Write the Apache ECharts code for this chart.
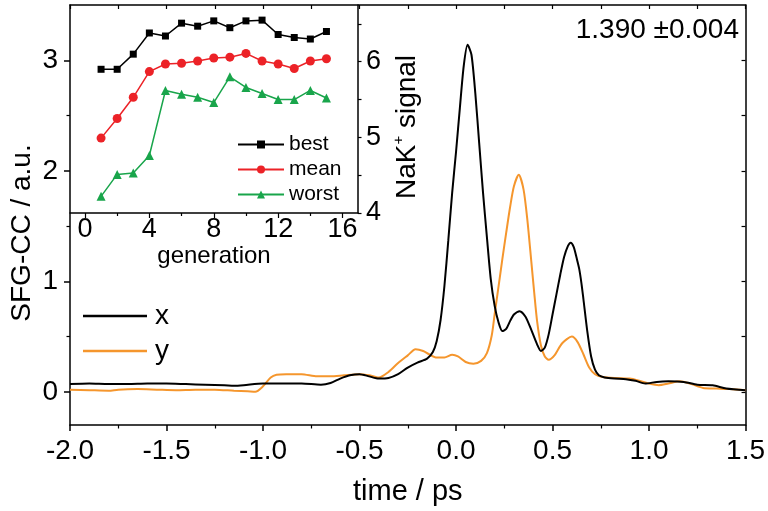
<!DOCTYPE html>
<html><head><meta charset="utf-8">
<script src="https://cdn.jsdelivr.net/npm/echarts@6/dist/echarts.min.js"></script>
<style>html,body{margin:0;padding:0;background:#fff}#c{width:768px;height:511px}</style>
</head><body><div id="c"></div>
<script>
// ---- main chart data (time / ps vs SFG-CC / a.u.) ----
const xTime = [-2.0,-1.9,-1.8,-1.7,-1.6,-1.5,-1.4,-1.3,-1.2,-1.15,-1.1,-1.0,-0.9,-0.8,-0.7,-0.65,-0.6,-0.55,-0.5,-0.45,-0.4,-0.35,-0.3,-0.25,-0.2,-0.15,-0.12,-0.1,-0.08,-0.06,-0.04,-0.02,0.0,0.02,0.04,0.06,0.08,0.10,0.12,0.14,0.16,0.18,0.20,0.22,0.24,0.26,0.28,0.30,0.33,0.36,0.39,0.42,0.44,0.46,0.48,0.50,0.52,0.54,0.56,0.58,0.594,0.61,0.625,0.638,0.65,0.66,0.68,0.70,0.72,0.74,0.77,0.82,0.88,0.93,0.98,1.04,1.1,1.18,1.25,1.33,1.4,1.5];
const xSignal = [0.07,0.075,0.07,0.07,0.075,0.075,0.07,0.065,0.06,0.055,0.06,0.075,0.075,0.075,0.065,0.08,0.12,0.15,0.16,0.14,0.12,0.125,0.16,0.22,0.265,0.30,0.36,0.46,0.65,0.96,1.37,1.80,2.17,2.57,2.95,3.14,3.05,2.70,2.25,1.80,1.40,1.02,0.78,0.63,0.55,0.57,0.64,0.70,0.73,0.68,0.56,0.43,0.37,0.40,0.52,0.70,0.88,1.06,1.22,1.32,1.35,1.31,1.21,1.115,0.98,0.84,0.55,0.32,0.20,0.15,0.13,0.12,0.115,0.10,0.075,0.09,0.095,0.09,0.065,0.06,0.03,0.015];
const yTime = [-2.0,-1.9,-1.8,-1.75,-1.65,-1.55,-1.45,-1.35,-1.25,-1.15,-1.08,-1.04,-1.0,-0.96,-0.93,-0.88,-0.8,-0.72,-0.65,-0.58,-0.5,-0.45,-0.4,-0.35,-0.3,-0.25,-0.21,-0.17,-0.14,-0.1,-0.06,-0.02,0.01,0.05,0.09,0.13,0.16,0.185,0.20,0.22,0.24,0.26,0.28,0.30,0.325,0.35,0.37,0.39,0.405,0.42,0.44,0.46,0.48,0.51,0.55,0.60,0.63,0.66,0.69,0.72,0.76,0.82,0.9,0.95,1.0,1.05,1.1,1.16,1.22,1.28,1.35,1.42,1.5];
const ySignal = [0.02,0.015,0.01,0.02,0.025,0.02,0.015,0.02,0.02,0.01,0.005,0.0,0.05,0.13,0.155,0.16,0.16,0.14,0.14,0.15,0.16,0.15,0.13,0.18,0.26,0.33,0.385,0.37,0.34,0.31,0.31,0.335,0.32,0.27,0.255,0.28,0.35,0.51,0.70,0.95,1.20,1.44,1.67,1.86,1.965,1.83,1.55,1.18,0.90,0.64,0.42,0.32,0.29,0.33,0.44,0.50,0.45,0.34,0.22,0.16,0.135,0.125,0.12,0.10,0.075,0.06,0.075,0.095,0.07,0.035,0.03,0.025,0.015];
// ---- inset data (generation vs NaK+ signal) ----
const generation = [1,2,3,4,5,6,7,8,9,10,11,12,13,14,15];
const best  = [5.90,5.90,6.10,6.38,6.34,6.51,6.47,6.54,6.45,6.54,6.55,6.36,6.32,6.30,6.40];
const mean  = [4.99,5.25,5.53,5.87,5.97,5.98,6.01,6.05,6.06,6.11,6.01,5.97,5.91,6.01,6.04];
const worst = [4.22,4.51,4.53,4.76,5.62,5.57,5.53,5.46,5.80,5.66,5.58,5.50,5.50,5.62,5.52];
// ---- tick labels ----
const mainYTicks = [0,1,2,3];
const mainYMinor = [0.5,1.5,2.5];
const mainYRight = [0,0.5,1,1.5,2,2.5,3];
const genTicks = [0,4,8,12,16];
const genMinor = [2,6,10,14];
const nakTicks = [4,5,6];
const nakAllTicks = [4,4.5,5,5.5,6,6.5];

const F = 'Liberation Sans, Arial, sans-serif';
const chart = echarts.init(document.getElementById('c'), null, {renderer:'canvas'});
const lineAx = {onZero:false, lineStyle:{color:'#000', width:1.5}};
const noLine = {show:false, onZero:false};
const pair = (a,b)=>a.map((v,i)=>[v,b[i]]);

chart.setOption({
  animation:false,
  backgroundColor:'#fff',
  textStyle:{fontFamily:F},
  grid:[
    {left:70, top:5, width:678, height:421, show:false},
    {left:70, top:5, width:288, height:208, show:false}
  ],
  xAxis:[
    {gridIndex:0, type:'value', position:'bottom', min:-2, max:1.5, interval:0.5,
     axisLine:lineAx, axisTick:{length:6, lineStyle:{color:'#000',width:1.5}},
     minorTick:{show:true, splitNumber:2, length:3.5, lineStyle:{color:'#000',width:1.2}},
     splitLine:{show:false},
     axisLabel:{fontSize:28, color:'#000', fontFamily:F, margin:12, formatter:v=>v.toFixed(1)},
     name:'time / ps', nameLocation:'middle', nameGap:52,
     nameTextStyle:{fontSize:29, color:'#000', fontFamily:F}},
    {gridIndex:0, type:'value', position:'top', min:-2, max:1.5, interval:0.25,
     axisLine:lineAx, axisTick:{inside:true, length:4, lineStyle:{color:'#000',width:1.2}},
     splitLine:{show:false}, axisLabel:{show:false}},
    {gridIndex:1, type:'value', position:'bottom', min:-0.93, max:16.96,
     axisLine:lineAx,
     axisTick:{customValues:genTicks, length:5, lineStyle:{color:'#000',width:1.2}},
     splitLine:{show:false},
     axisLabel:{customValues:genTicks, fontSize:27, color:'#000', fontFamily:F, margin:3},
     name:'generation', nameLocation:'middle', nameGap:27,
     nameTextStyle:{fontSize:24, color:'#000', fontFamily:F}},
    {gridIndex:1, type:'value', position:'bottom', min:-0.93, max:16.96,
     axisLine:noLine,
     axisTick:{customValues:genMinor, length:3, lineStyle:{color:'#000',width:1.2}},
     splitLine:{show:false}, axisLabel:{show:false}}
  ],
  yAxis:[
    {gridIndex:0, type:'value', position:'left', min:-0.3, max:3.5,
     axisLine:lineAx,
     axisTick:{customValues:mainYTicks, length:6, lineStyle:{color:'#000',width:1.5}},
     splitLine:{show:false},
     axisLabel:{customValues:mainYTicks, fontSize:28, color:'#000', fontFamily:F, margin:12}},
    {gridIndex:0, type:'value', position:'left', min:-0.3, max:3.5,
     axisLine:noLine,
     axisTick:{customValues:mainYMinor, length:3.5, lineStyle:{color:'#000',width:1.2}},
     splitLine:{show:false}, axisLabel:{show:false}},
    {gridIndex:0, type:'value', position:'right', min:-0.3, max:3.5,
     axisLine:lineAx,
     axisTick:{customValues:mainYRight, inside:true, length:4, lineStyle:{color:'#000',width:1.2}},
     splitLine:{show:false}, axisLabel:{show:false}},
    {gridIndex:1, type:'value', position:'right', min:4, max:6.75,
     axisLine:lineAx,
     axisTick:{customValues:nakAllTicks, length:3.5, lineStyle:{color:'#000',width:1.2}},
     splitLine:{show:false},
     axisLabel:{customValues:nakTicks, fontSize:27, color:'#000', fontFamily:F, margin:8}}
  ],
  legend:[
    {data:[{name:'x', icon:'rect'},{name:'y', icon:'rect'}], left:83, top:302, padding:0, orient:'vertical',
     itemWidth:64, itemHeight:2.5, itemGap:7,
     textStyle:{fontSize:28, color:'#000', fontFamily:F, padding:[0,0,0,3]}},
    {data:['best','mean','worst'], left:237, top:134, padding:0, orient:'vertical', itemWidth:46, itemHeight:10, itemGap:4,
     textStyle:{fontSize:21, color:'#000', fontFamily:F}}
  ],
  series:[
    {name:'x', type:'line', xAxisIndex:0, yAxisIndex:0, data:pair(xTime,xSignal),
     symbol:'none', smooth:0.25, lineStyle:{color:'#000', width:2}, itemStyle:{color:'#000'}, z:3},
    {name:'y', type:'line', xAxisIndex:0, yAxisIndex:0, data:pair(yTime,ySignal),
     symbol:'none', smooth:0.25, lineStyle:{color:'#f5962d', width:2}, itemStyle:{color:'#f5962d'}, z:2},
    {name:'best', type:'line', xAxisIndex:2, yAxisIndex:3, data:pair(generation,best),
     symbol:'rect', symbolSize:7, lineStyle:{color:'#000', width:1.5}, itemStyle:{color:'#000'}},
    {name:'mean', type:'line', xAxisIndex:2, yAxisIndex:3, data:pair(generation,mean),
     symbol:'circle', symbolSize:9, lineStyle:{color:'#ec2227', width:1.5}, itemStyle:{color:'#ec2227'}},
    {name:'worst', type:'line', xAxisIndex:2, yAxisIndex:3, data:pair(generation,worst),
     symbol:'triangle', symbolSize:9, lineStyle:{color:'#19a54b', width:1.5}, itemStyle:{color:'#19a54b'}}
  ],
  graphic:[
    {type:'text', x:739, y:30, style:{text:'1.390 \u00b10.004', font:'28px '+F, fill:'#000', align:'right', verticalAlign:'middle'}},
    {type:'text', x:22, y:233, rotation:Math.PI/2, style:{text:'SFG-CC / a.u.', font:'28px '+F, fill:'#000', align:'center', verticalAlign:'middle'}},
    {type:'text', x:406, y:127, rotation:Math.PI/2,
     style:{text:'{a|NaK}{s|+}{a| signal}', fill:'#000', align:'center', verticalAlign:'middle',
       rich:{a:{fontSize:28, fontFamily:F, fill:'#000', lineHeight:30, verticalAlign:'bottom'},
             s:{fontSize:15, fontFamily:F, fill:'#000', lineHeight:30, verticalAlign:'top', padding:[0,0,12,0]}}}}
  ]
});
</script></body></html>
